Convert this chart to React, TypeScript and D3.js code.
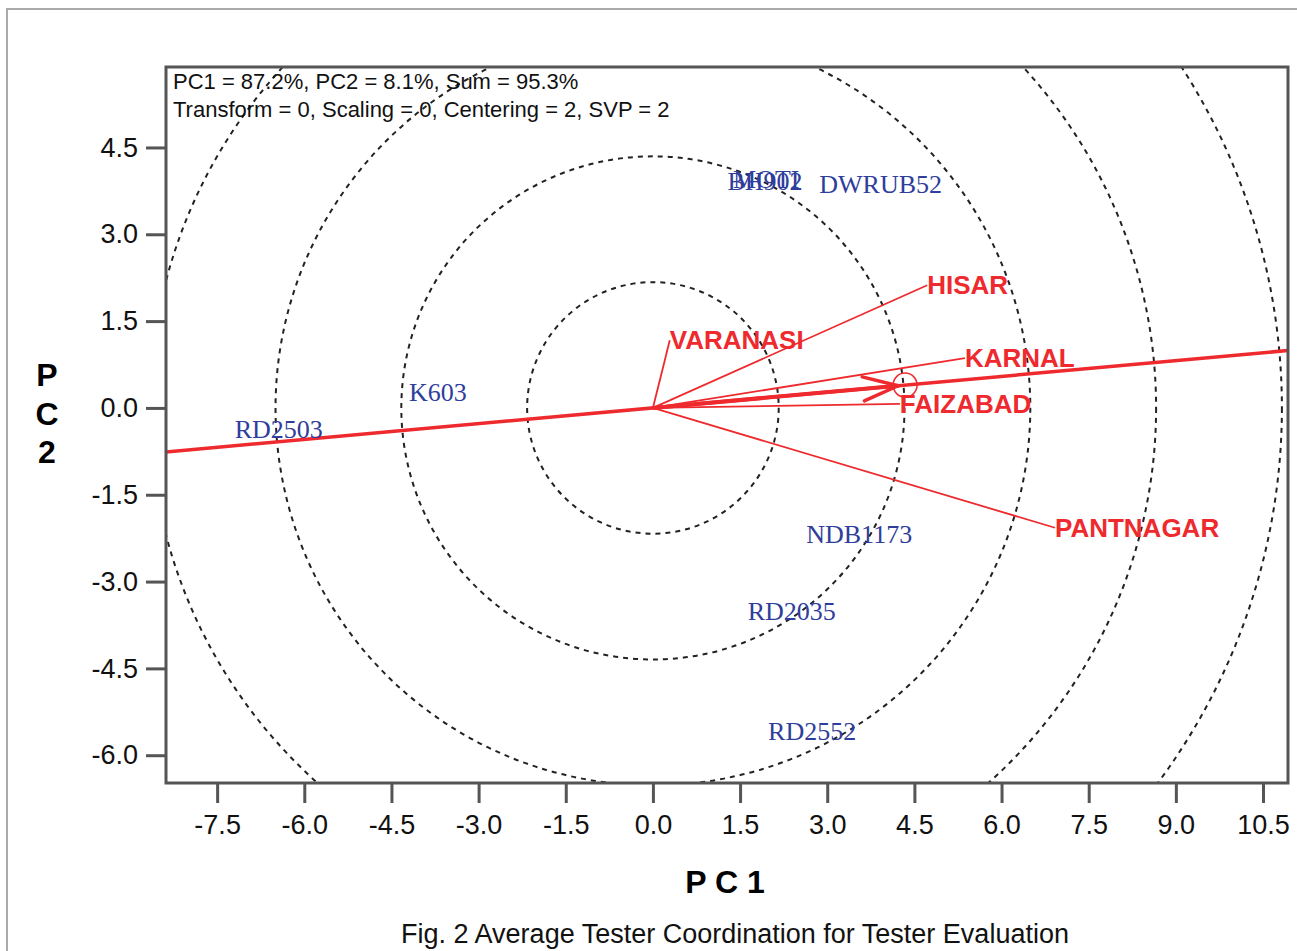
import { useEffect, useRef } from "react";
import * as d3 from "d3";

const TESTERS = ["VARANASI", "HISAR", "KARNAL", "FAIZABAD", "PANTNAGAR"];
const TESTER_PC1 = [0.29, 4.72, 5.37, 4.25, 6.92];
const TESTER_PC2 = [1.17, 2.12, 0.86, 0.07, -2.07];

const GENOTYPES = ["DWRUB52", "BH902", "MOTI", "K603", "RD2503", "NDB1173", "RD2035", "RD2552"];
const GEN_PC1 = [3.92, 1.93, 1.95, -3.7, -6.44, 3.55, 2.39, 2.74];
const GEN_PC2 = [3.86, 3.92, 3.95, 0.26, -0.38, -2.19, -3.52, -5.59];

// average environment coordinate
const AEC = [4.34, 0.394];
const RINGS = [2.165, 4.33, 6.495, 8.66, 10.825];

const X_TICKS = [-7.5, -6, -4.5, -3, -1.5, 0, 1.5, 3, 4.5, 6, 7.5, 9, 10.5];
const Y_TICKS = [-6, -4.5, -3, -1.5, 0, 1.5, 3, 4.5];
const X_DOMAIN = [-8.38, 10.93];
const Y_DOMAIN = [-6.48, 5.89];

const HEADER = ["PC1 = 87.2%, PC2 = 8.1%, Sum = 95.3%", "Transform = 0, Scaling = 0, Centering = 2, SVP = 2"];
const CAPTION = "Fig. 2 Average Tester Coordination for Tester Evaluation";

const W = 1297, H = 951;
const PLOT = { left: 166, top: 67, right: 1288, bottom: 783 };
const RED = "#ee2a2e";
const BLUE = "#2f3d9c";
const SANS = "'Liberation Sans', Arial, sans-serif";
const SERIF = "'Liberation Serif', 'Times New Roman', serif";

export default function App() {
  const svgRef = useRef<SVGSVGElement>(null);

  useEffect(() => {
    if (!svgRef.current) return;
    const svg = d3.select(svgRef.current);
    svg.selectAll("*").remove();
    svg.attr("width", W).attr("height", H);

    const x = d3.scaleLinear().domain(X_DOMAIN).range([PLOT.left, PLOT.right]);
    const y = d3.scaleLinear().domain(Y_DOMAIN).range([PLOT.bottom, PLOT.top]);
    const px = (x(1) - x(0));

    svg.append("rect").attr("width", W).attr("height", H).attr("fill", "#fff");
    svg.append("rect").attr("x", 7).attr("y", 9).attr("width", W + 20).attr("height", H + 20)
      .attr("fill", "none").attr("stroke", "#aaa").attr("stroke-width", 2);

    svg.append("clipPath").attr("id", "plotclip").append("rect")
      .attr("x", PLOT.left).attr("y", PLOT.top)
      .attr("width", PLOT.right - PLOT.left).attr("height", PLOT.bottom - PLOT.top);

    const g = svg.append("g").attr("clip-path", "url(#plotclip)");

    g.selectAll(".ring").data(RINGS).join("circle")
      .attr("cx", x(0)).attr("cy", y(0)).attr("r", d => d * px)
      .attr("fill", "none").attr("stroke", "#222").attr("stroke-width", 2)
      .attr("stroke-dasharray", "5,5");

    // average tester axis through origin
    const slope = AEC[1] / AEC[0];
    g.append("line")
      .attr("x1", x(X_DOMAIN[0])).attr("y1", y(X_DOMAIN[0] * slope))
      .attr("x2", x(X_DOMAIN[1])).attr("y2", y(X_DOMAIN[1] * slope))
      .attr("stroke", RED).attr("stroke-width", 3.5);

    // tester vectors
    g.selectAll(".vec").data(TESTERS).join("line")
      .attr("x1", x(0)).attr("y1", y(0))
      .attr("x2", (_, i) => x(TESTER_PC1[i])).attr("y2", (_, i) => y(TESTER_PC2[i]))
      .attr("stroke", RED).attr("stroke-width", 1.8);

    // arrow to average environment
    const ax = x(AEC[0]), ay = y(AEC[1]);
    const ang = Math.atan2(ay - y(0), ax - x(0));
    const tipX = ax - 7 * Math.cos(ang), tipY = ay - 7 * Math.sin(ang);
    g.append("line").attr("x1", x(0)).attr("y1", y(0)).attr("x2", tipX).attr("y2", tipY)
      .attr("stroke", RED).attr("stroke-width", 4);
    [-19, 19].forEach(deg => {
      const a = ang + Math.PI + (deg * Math.PI) / 180;
      g.append("line").attr("x1", tipX).attr("y1", tipY)
        .attr("x2", tipX + 37 * Math.cos(a)).attr("y2", tipY + 37 * Math.sin(a))
        .attr("stroke", RED).attr("stroke-width", 3.5).attr("stroke-linecap", "round");
    });
    g.append("circle").attr("cx", ax).attr("cy", ay).attr("r", 12)
      .attr("fill", "none").attr("stroke", RED).attr("stroke-width", 1.5);

    // genotype labels (BH902 and MOTI sit on top of each other, as in the source)
    g.selectAll(".gen").data(GENOTYPES).join("text")
      .attr("x", (_, i) => x(GEN_PC1[i])).attr("y", (_, i) => y(GEN_PC2[i]))
      .attr("text-anchor", "middle").attr("dominant-baseline", "central")
      .attr("font-family", SERIF).attr("font-size", "26px").attr("fill", BLUE)
      .text(d => d);

    // tester labels
    g.selectAll(".tst").data(TESTERS).join("text")
      .attr("x", (_, i) => x(TESTER_PC1[i])).attr("y", (_, i) => y(TESTER_PC2[i]))
      .attr("dominant-baseline", "central")
      .attr("font-family", SANS).attr("font-size", "26px").attr("font-weight", "700").attr("fill", RED)
      .text(d => d);

    // header
    svg.selectAll(".hdr").data(HEADER).join("text")
      .attr("x", 173).attr("y", (_, i) => 89 + i * 28)
      .attr("font-family", SANS).attr("font-size", "22px").attr("fill", "#111")
      .text(d => d);

    // frame
    svg.append("rect").attr("x", PLOT.left).attr("y", PLOT.top)
      .attr("width", PLOT.right - PLOT.left).attr("height", PLOT.bottom - PLOT.top)
      .attr("fill", "none").attr("stroke", "#555").attr("stroke-width", 3);

    const fmt = (d: d3.NumberValue) => (+d).toFixed(1);
    const xAxis = svg.append("g").attr("transform", `translate(0,${PLOT.bottom})`)
      .call(d3.axisBottom(x).tickValues(X_TICKS).tickFormat(fmt).tickSize(20).tickPadding(12));
    const yAxis = svg.append("g").attr("transform", `translate(${PLOT.left},0)`)
      .call(d3.axisLeft(y).tickValues(Y_TICKS).tickFormat(fmt).tickSize(20).tickPadding(8));
    [xAxis, yAxis].forEach(ax2 => {
      ax2.select(".domain").remove();
      ax2.selectAll(".tick line").attr("stroke", "#555").attr("stroke-width", 3);
      ax2.selectAll(".tick text").attr("font-family", SANS).attr("font-size", "27px").attr("fill", "#111");
    });

    svg.append("text").attr("x", 725).attr("y", 893).attr("text-anchor", "middle")
      .attr("font-family", SANS).attr("font-size", "32px").attr("font-weight", "700").attr("fill", "#000")
      .attr("xml:space", "preserve").text("P C 1");
    ["P", "C", "2"].forEach((ch, i) => {
      svg.append("text").attr("x", 47).attr("y", 375 + i * 38.5).attr("text-anchor", "middle")
        .attr("dominant-baseline", "central")
        .attr("font-family", SANS).attr("font-size", "32px").attr("font-weight", "700").attr("fill", "#000")
        .text(ch);
    });

    svg.append("text").attr("x", 735).attr("y", 943).attr("text-anchor", "middle")
      .attr("font-family", SANS).attr("font-size", "27px").attr("fill", "#111")
      .text(CAPTION);
  }, []);

  return (
    <div style={{ position: "absolute", left: 0, top: 0 }}>
      <svg ref={svgRef} style={{ display: "block" }} />
    </div>
  );
}
